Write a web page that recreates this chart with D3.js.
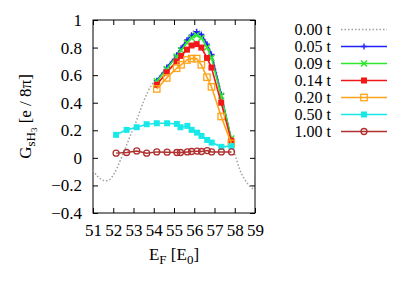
<!DOCTYPE html>
<html><head><meta charset="utf-8">
<script src="https://cdn.jsdelivr.net/npm/d3@7"></script>
<style>body{margin:0;background:#fff}svg{display:block}</style>
</head><body>
<script>
// ---- data ----
const xMain = [54.15, 54.64, 55.13, 55.35, 55.64, 55.87, 56.12, 56.35, 56.63, 56.85, 57.33, 57.83];
const g005 = [0.56, 0.655, 0.745, 0.795, 0.855, 0.89, 0.915, 0.895, 0.825, 0.75, 0.46, 0.13];
const g009 = [0.555, 0.645, 0.735, 0.78, 0.835, 0.87, 0.89, 0.87, 0.80, 0.725, 0.45, 0.14];
const g014 = [0.53, 0.62, 0.70, 0.74, 0.785, 0.815, 0.825, 0.80, 0.725, 0.655, 0.40, 0.125];
const g020 = [0.50, 0.58, 0.65, 0.675, 0.71, 0.72, 0.72, 0.675, 0.585, 0.515, 0.30, 0.105];
const xLong = [52.14, 52.66, 53.16, 53.65, 54.15, 54.66, 55.14, 55.32, 55.66, 55.87, 56.14, 56.36, 56.64, 56.86, 57.34, 57.84];
const g050 = [0.167, 0.203, 0.222, 0.244, 0.251, 0.251, 0.246, 0.222, 0.232, 0.203, 0.183, 0.159, 0.13, 0.111, 0.08, 0.085];
const g100 = [0.034, 0.039, 0.05, 0.034, 0.043, 0.041, 0.039, 0.039, 0.043, 0.046, 0.049, 0.046, 0.053, 0.043, 0.043, 0.043];
const xTheory = [51.0, 51.2, 51.4, 51.6, 51.8, 52.0, 52.2, 52.4, 52.6, 52.8, 53.0, 53.2, 53.5, 53.9, 54.15, 54.64, 55.13, 55.64, 56.12, 56.35, 56.63, 56.85, 57.1, 57.33, 57.6, 57.83, 58.0, 58.25, 58.6, 58.85, 59.0];
const gTheory = [-0.09, -0.13, -0.155, -0.167, -0.16, -0.125, -0.07, 0.0, 0.07, 0.145, 0.215, 0.29, 0.41, 0.53, 0.57, 0.665, 0.755, 0.865, 0.93, 0.905, 0.835, 0.755, 0.62, 0.47, 0.27, 0.12, 0.03, -0.085, -0.18, -0.22, -0.23];
const seriesNames = ["0.00 t", "0.05 t", "0.09 t", "0.14 t", "0.20 t", "0.50 t", "1.00 t"];
const xTicks = [51, 52, 53, 54, 55, 56, 57, 58, 59];
const yTicks = [-0.4, -0.2, 0, 0.2, 0.4, 0.6, 0.8, 1];

// ---- layout ----
const FONT = '"Liberation Serif"';
const W = 407, H = 285;
const L = 93, R = 255, T = 20, B = 213;
const svg = d3.select("body").append("svg").attr("width", W).attr("height", H);
const x = d3.scaleLinear().domain([51, 59]).range([L, R]);
const y = d3.scaleLinear().domain([-0.4, 1]).range([B, T]);

const series = [
  {name: seriesNames[0], xs: xTheory, ys: gTheory, color: "#a0a0a0", marker: null, dash: "1.5,2", w: 1.5},
  {name: seriesNames[1], xs: xMain, ys: g005, color: "#2222ff", marker: "plus", w: 1.6},
  {name: seriesNames[2], xs: xMain, ys: g009, color: "#2ee82e", marker: "cross", w: 1.6},
  {name: seriesNames[3], xs: xMain, ys: g014, color: "#f01818", marker: "fsquare", w: 1.6},
  {name: seriesNames[4], xs: xMain, ys: g020, color: "#ffa31a", marker: "osquare", w: 1.6},
  {name: seriesNames[5], xs: xLong, ys: g050, color: "#18e8e8", marker: "fsquare", w: 1.6},
  {name: seriesNames[6], xs: xLong, ys: g100, color: "#b03030", marker: "circle", w: 1.4}
];

function drawMarker(g, type, cx, cy, color) {
  if (type === "plus") {
    g.append("path").attr("d", `M${cx-3},${cy}H${cx+3}M${cx},${cy-3}V${cy+3}`).attr("stroke", color).attr("stroke-width", 1.3).attr("fill", "none");
  } else if (type === "cross") {
    g.append("path").attr("d", `M${cx-3},${cy-3}L${cx+3},${cy+3}M${cx-3},${cy+3}L${cx+3},${cy-3}`).attr("stroke", color).attr("stroke-width", 1.5).attr("fill", "none");
  } else if (type === "fsquare") {
    g.append("rect").attr("x", cx-3).attr("y", cy-3).attr("width", 6).attr("height", 6).attr("fill", color);
  } else if (type === "osquare") {
    g.append("rect").attr("x", cx-3.2).attr("y", cy-3.2).attr("width", 6.4).attr("height", 6.4).attr("fill", "none").attr("stroke", color).attr("stroke-width", 1.3);
  } else if (type === "circle") {
    g.append("circle").attr("cx", cx).attr("cy", cy).attr("r", 3).attr("fill", "none").attr("stroke", color).attr("stroke-width", 1.3);
  }
}

// ---- frame and ticks ----
const ax = svg.append("g");
ax.append("g").attr("transform", `translate(0,${B})`)
  .call(d3.axisBottom(x).tickValues(xTicks).tickSize(-5).tickPadding(11).tickFormat(d3.format("d")));
ax.append("g").attr("transform", `translate(0,${T})`)
  .call(d3.axisTop(x).tickValues(xTicks).tickSize(-5).tickFormat(""));
ax.append("g").attr("transform", `translate(${L},0)`)
  .call(d3.axisLeft(y).tickValues(yTicks).tickSize(-5).tickPadding(11).tickFormat(d => d === 0 ? "0" : d3.format("")(+d.toFixed(1))));
ax.append("g").attr("transform", `translate(${R},0)`)
  .call(d3.axisRight(y).tickValues(yTicks).tickSize(-5).tickFormat(""));
ax.selectAll(".domain").remove();
ax.selectAll("line").attr("stroke", "#000").attr("stroke-width", 1);
ax.selectAll("text").style("font-family", FONT).style("font-size", "17px").attr("fill", "#000");
svg.append("rect").attr("x", L).attr("y", T).attr("width", R-L).attr("height", B-T)
  .attr("fill", "none").attr("stroke", "#000").attr("stroke-width", 1);

// ---- series ----
const plot = svg.append("g");
series.forEach(s => {
  const pts = s.xs.map((v, i) => [x(v), y(s.ys[i])]);
  const line = d3.line().curve(s.marker ? d3.curveLinear : d3.curveMonotoneX);
  const p = plot.append("path").attr("d", line(pts)).attr("fill", "none")
    .attr("stroke", s.color).attr("stroke-width", s.w);
  if (s.dash) p.attr("stroke-dasharray", s.dash);
  if (s.marker) pts.forEach(([cx, cy]) => drawMarker(plot, s.marker, cx, cy, s.color));
});

// ---- legend ----
const leg = svg.append("g");
series.forEach((s, i) => {
  const yy = 29.5 + i * 17;
  leg.append("text").attr("x", 331).attr("y", yy + 5).attr("text-anchor", "end")
    .style("font-family", FONT).style("font-size", "16px").text(s.name);
  const ln = leg.append("line").attr("x1", 341).attr("x2", 387).attr("y1", yy).attr("y2", yy)
    .attr("stroke", s.color).attr("stroke-width", s.w);
  if (s.dash) ln.attr("stroke-dasharray", s.dash);
  if (s.marker) drawMarker(leg, s.marker, 364, yy, s.color);
});

// ---- axis labels ----
const xl = svg.append("text").attr("x", 174).attr("y", 260).attr("text-anchor", "middle")
  .style("font-family", FONT).style("font-size", "17px");
xl.append("tspan").text("E");
xl.append("tspan").style("font-size", "13px").attr("dy", 4).text("F");
xl.append("tspan").attr("dy", -4).text(" [E");
xl.append("tspan").style("font-size", "13px").attr("dy", 4).text("0");
xl.append("tspan").attr("dy", -4).text("]");

const yl = svg.append("text").attr("transform", `translate(31,${(T+B)/2}) rotate(-90)`)
  .attr("text-anchor", "middle").style("font-family", FONT).style("font-size", "17px");
yl.append("tspan").text("G");
yl.append("tspan").style("font-size", "13px").attr("dy", 4).text("sH");
yl.append("tspan").style("font-size", "9px").attr("dy", 2).text("3");
yl.append("tspan").attr("dy", -6).text(" [e / 8π]");
</script>
</body></html>
